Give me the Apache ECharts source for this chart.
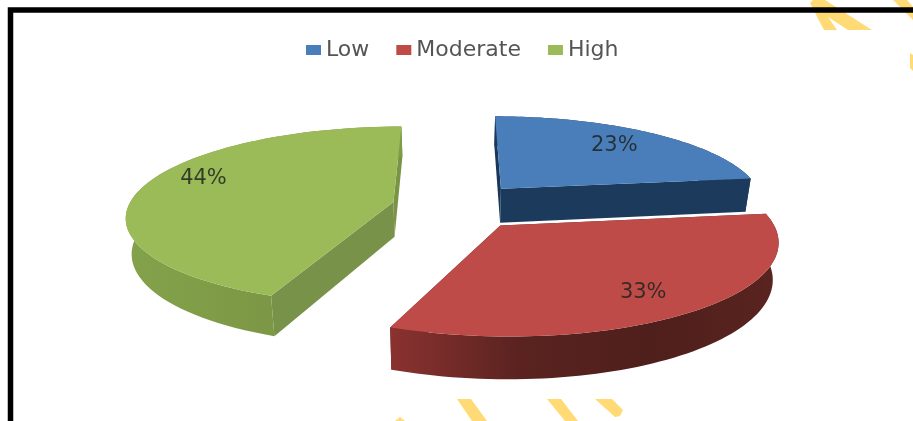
<!DOCTYPE html>
<html>
<head>
<meta charset="utf-8">
<style>html,body{margin:0;padding:0;background:#fff}#chart{width:913px;height:421px}</style>
<script src="https://cdn.jsdelivr.net/npm/echarts@6/dist/echarts.min.js"></script>
</head>
<body>
<div id="chart"></div>
<script>
// Share of respondents per level
const categories = ['Low', 'Moderate', 'High'];
const shares = [23, 33, 44];
const shareLabels = ['23%', '33%', '44%'];

// Slice colours: top face, rim gradient stops, the two cut faces
const topColors = ['#4A7EBB', '#BE4B48', '#9BBB59'];
const rimColors = [['#1C3A5C', '#1C3A5C'], ['#8A3230', '#5A2320', '#4F1F1B', '#5A2420'], ['#84A24A', '#7C9846', '#7F9C46']];
const faceColors = [['#1A3759', '#1C3A5C'], ['#5A2320', '#5A2320'], ['#78924A', '#7A9445']];

// How far each slice is pulled out of the pie, as a fraction of the radius
const explosions = [0.27, 0.27, 0.238];

// Label anchor on each slice: clockwise angle from the back, fraction of radius
const labelAngles = [41, 145, 290];
const labelRadii = [0.75, 0.79, 0.81];

// Tilted-disc projection
const view = { cx: 455, cy: 206, scaleX: 265, scaleY: 88, persp: 0.15, depth: 35, taper: 0.018 };
const RAD = Math.PI / 180;
const total = shares.reduce((a, b) => a + b, 0);

function project(X, Z, low) {
  const s = 1 / (1 + view.persp * Z);
  let x = view.cx + view.scaleX * X * s;
  let y = view.cy - view.scaleY * Z * s;
  if (low) {
    x = view.cx + (x - view.cx) * (1 - view.taper);
    y += view.depth * s;
  }
  return [x, y];
}

function sliceGeometry(i) {
  const before = shares.slice(0, i).reduce((a, b) => a + b, 0);
  const start = before / total * 360;
  const end = (before + shares[i]) / total * 360;
  const mid = (start + end) / 2;
  const ox = explosions[i] * Math.sin(mid * RAD);
  const oz = explosions[i] * Math.cos(mid * RAD);
  const at = (deg, r, low) => project(ox + r * Math.sin(deg * RAD), oz + r * Math.cos(deg * RAD), low);
  const steps = 72;
  const arc = [], arcLow = [];
  for (let k = 0; k <= steps; k++) {
    const deg = start + (end - start) * k / steps;
    arc.push(at(deg, 1, false));
    arcLow.push(at(deg, 1, true));
  }
  return { start, end, at, arc, arcLow };
}

function stops(list) {
  return list.map((color, n) => ({ offset: n / (list.length - 1), color }));
}

function drawSlice(i) {
  return function () {
    const g = sliceGeometry(i);
    const apex = g.at(0, 0, false);
    const apexLow = g.at(0, 0, true);
    const first = g.arc[0], firstLow = g.arcLow[0];
    const last = g.arc[g.arc.length - 1], lastLow = g.arcLow[g.arcLow.length - 1];
    const poly = (points, fill) => ({ type: 'polygon', shape: { points }, style: { fill } });
    const text = g.at(labelAngles[i], labelRadii[i], false);
    return {
      type: 'group',
      children: [
        poly([apex, first, firstLow, apexLow], faceColors[i][0]),
        poly([apex, last, lastLow, apexLow], faceColors[i][1]),
        poly(g.arc.concat(g.arcLow.slice().reverse()),
          new echarts.graphic.LinearGradient(0, 0, 1, 0, stops(rimColors[i]))),
        poly([apex].concat(g.arc), topColors[i]),
        {
          type: 'text',
          style: {
            x: text[0], y: text[1], text: shareLabels[i],
            fill: '#1D2420', opacity: 0.85,
            font: '21px "DejaVu Sans"', textAlign: 'center', textVerticalAlign: 'middle'
          }
        }
      ]
    };
  };
}

// Back slices first so the red slice overlaps the blue one
const drawOrder = [2, 0, 1];
const series = drawOrder.map(i => ({
  type: 'custom',
  name: categories[i],
  coordinateSystem: 'none',
  color: topColors[i],
  silent: true,
  animation: false,
  data: [[shares[i]]],
  renderItem: drawSlice(i)
}));

// Page frame and the yellow stripe fragments around it
const stripes = [
  [[810, 3], [813, 0], [825, 0], [872, 30], [848, 30], [828, 17], [837, 30], [824, 30]],
  [[893, 0], [907, 0], [913, 7], [913, 20]],
  [[910, 53], [913, 55], [913, 71], [910, 68]],
  [[395, 421], [400, 417], [405, 421]],
  [[457, 399], [471, 399], [487, 421], [472, 421]],
  [[547, 399], [561, 399], [578, 421], [565, 421]],
  [[595, 399], [612, 399], [623, 410], [620, 416], [615, 417]]
];
const graphic = stripes.map(points => ({
  type: 'polygon', z: 0, shape: { points }, style: { fill: '#FFDA75' }, silent: true
}));
graphic.push({
  type: 'polyline', z: 1, silent: true,
  shape: { points: [[10.5, 430], [10.5, 10], [925, 10]] },
  style: { stroke: '#000', lineWidth: 5.5, fill: 'none' }
});

const chart = echarts.init(document.getElementById('chart'), null, { renderer: 'canvas' });
chart.setOption({
  backgroundColor: '#fff',
  animation: false,
  legend: {
    data: categories,
    left: 301,
    top: 34,
    itemWidth: 15,
    itemHeight: 10,
    itemGap: 27,
    icon: 'rect',
    selectedMode: false,
    textStyle: { color: '#555', fontFamily: 'DejaVu Sans', fontSize: 22 }
  },
  graphic,
  series
});
</script>
</body>
</html>
